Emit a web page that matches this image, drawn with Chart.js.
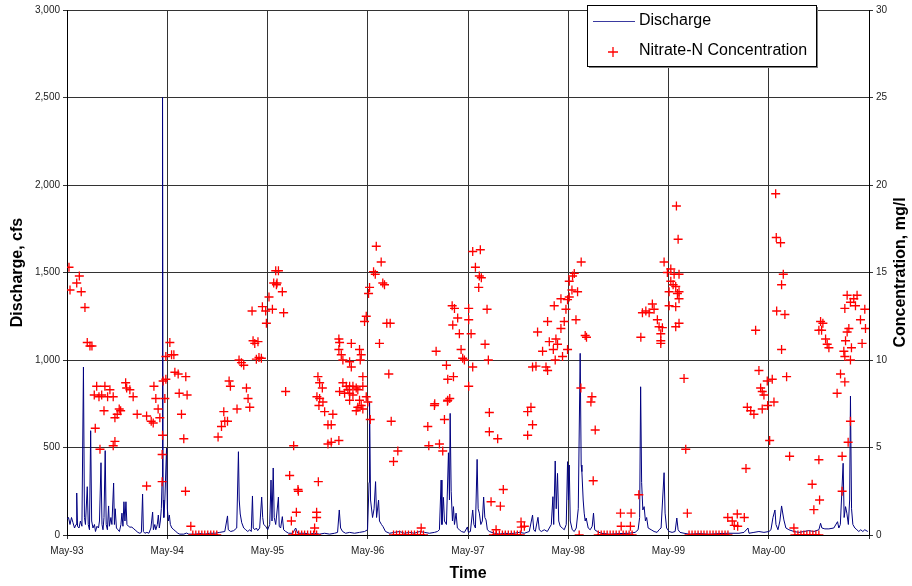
<!DOCTYPE html>
<html>
<head>
    <title>Discharge and Nitrate-N Concentration</title>
    <script src="https://cdn.jsdelivr.net/npm/chart.js@4.4.0/dist/chart.umd.min.js"></script>
    <style>
        body { margin: 0; background: #fff; }
        #wrap { width: 912px; height: 586px; }
    </style>
</head>
<body>
<div id="wrap"><canvas id="chart" width="912" height="586"></canvas></div>
<script>
    // time axis: years after May 1993
    const yearLabels = ['May-93', 'May-94', 'May-95', 'May-96', 'May-97', 'May-98', 'May-99', 'May-00'];
    const dischargeTicks = [0, 500, 1000, 1500, 2000, 2500, 3000];
    const concTicks = [0, 5, 10, 15, 20, 25, 30];

    // daily discharge, cfs  [years after May-93, cfs]
    const discharge = [
        [0.000,90],[0.015,100],[0.030,60],[0.045,100],[0.060,70],[0.075,40],[0.090,60],[0.097,240],[0.105,50],[0.120,40],
        [0.134,80],[0.149,50],[0.164,960],[0.174,100],[0.184,60],[0.202,276],[0.212,60],[0.224,30],[0.236,596],[0.246,80],
        [0.259,40],[0.274,60],[0.284,20],[0.299,50],[0.314,40],[0.324,80],[0.339,413],[0.349,60],[0.359,30],[0.369,100],
        [0.381,482],[0.391,60],[0.403,30],[0.415,166],[0.423,50],[0.438,100],[0.448,60],[0.465,297],[0.473,60],[0.481,150],
        [0.493,40],[0.508,30],[0.523,20],[0.538,60],[0.548,125],[0.558,50],[0.568,190],[0.578,80],[0.588,190],[0.598,60],
        [0.613,50],[0.627,45],[0.647,45],[0.667,35],[0.687,25],[0.707,15],[0.727,10],[0.742,15],[0.754,234],[0.762,20],
        [0.777,10],[0.797,15],[0.817,10],[0.837,40],[0.854,131],[0.862,30],[0.876,60],[0.886,30],[0.901,60],[0.911,114],
        [0.921,40],[0.931,80],[0.941,150],[0.948,300],[0.953,2500],[0.959,200],[0.966,100],[0.976,200],[0.993,497],[1.001,150],
        [1.011,80],[1.021,114],[1.031,60],[1.046,40],[1.066,30],[1.086,20],[1.106,10],[1.125,5],[1.165,5],[1.192,11],
        [1.215,5],[1.275,5],[1.325,8],[1.374,5],[1.424,10],[1.474,10],[1.524,15],[1.574,20],[1.601,109],[1.609,30],
        [1.633,20],[1.663,25],[1.693,40],[1.710,476],[1.718,200],[1.728,120],[1.743,70],[1.763,40],[1.783,30],[1.803,20],
        [1.823,30],[1.838,20],[1.850,223],[1.858,40],[1.873,30],[1.889,40],[1.902,25],[1.922,40],[1.942,217],[1.952,100],
        [1.962,60],[1.982,50],[2.002,30],[2.022,60],[2.035,314],[2.045,80],[2.057,383],[2.067,100],[2.082,60],[2.109,217],
        [2.117,50],[2.131,40],[2.148,105],[2.161,30],[2.181,20],[2.211,10],[2.251,10],[2.281,40],[2.301,10],[2.370,10],
        [2.420,5],[2.470,10],[2.520,5],[2.570,10],[2.619,5],[2.669,10],[2.699,15],[2.716,143],[2.729,40],[2.749,20],
        [2.779,10],[2.819,15],[2.868,10],[2.918,15],[2.968,20],[2.998,30],[3.013,300],[3.018,762],[3.028,200],[3.048,100],
        [3.063,150],[3.078,305],[3.088,100],[3.108,200],[3.117,80],[3.137,60],[3.152,48],[3.177,20],[3.217,10],[3.267,15],
        [3.317,20],[3.366,10],[3.416,15],[3.466,10],[3.516,20],[3.566,15],[3.615,10],[3.665,15],[3.695,20],[3.715,30],
        [3.732,314],[3.740,60],[3.755,215],[3.765,80],[3.785,60],[3.805,470],[3.815,200],[3.822,695],[3.832,250],[3.845,80],
        [3.855,162],[3.865,60],[3.881,125],[3.894,40],[3.914,30],[3.934,20],[3.964,15],[3.994,46],[4.004,15],[4.024,20],
        [4.047,143],[4.059,60],[4.074,40],[4.091,432],[4.101,150],[4.113,125],[4.128,60],[4.143,80],[4.156,217],[4.168,100],
        [4.180,86],[4.193,30],[4.213,20],[4.263,10],[4.313,5],[4.362,10],[4.412,8],[4.462,10],[4.512,15],[4.562,10],
        [4.611,20],[4.644,114],[4.656,30],[4.671,20],[4.698,101],[4.711,30],[4.731,20],[4.761,30],[4.791,20],[4.811,40],
        [4.831,60],[4.847,219],[4.855,60],[4.870,423],[4.880,150],[4.893,352],[4.905,80],[4.920,50],[4.940,40],[4.960,30],
        [4.980,60],[4.993,419],[5.002,200],[5.010,400],[5.020,80],[5.040,30],[5.060,20],[5.080,40],[5.100,150],[5.119,1038],
        [5.129,400],[5.136,362],[5.149,200],[5.159,125],[5.169,80],[5.179,97],[5.199,40],[5.219,30],[5.239,50],[5.252,125],
        [5.264,30],[5.289,20],[5.329,10],[5.408,5],[5.508,8],[5.607,10],[5.667,15],[5.697,30],[5.712,100],[5.722,847],
        [5.732,300],[5.744,143],[5.757,162],[5.770,80],[5.782,100],[5.797,40],[5.827,30],[5.856,20],[5.886,15],[5.906,30],
        [5.926,40],[5.941,200],[5.956,356],[5.966,125],[5.981,40],[6.006,20],[6.036,15],[6.066,20],[6.083,97],[6.096,30],
        [6.115,15],[6.155,10],[6.205,5],[6.305,8],[6.404,5],[6.504,8],[6.603,10],[6.703,10],[6.753,15],[6.793,40],
        [6.803,10],[6.852,15],[6.902,20],[6.952,15],[7.002,20],[7.022,30],[7.042,100],[7.062,143],[7.072,60],[7.092,30],
        [7.111,80],[7.128,166],[7.141,120],[7.151,86],[7.171,40],[7.201,30],[7.251,20],[7.301,15],[7.350,20],[7.400,25],
        [7.450,20],[7.500,30],[7.517,67],[7.530,40],[7.560,35],[7.600,35],[7.649,40],[7.686,76],[7.699,40],[7.714,60],
        [7.742,410],[7.752,100],[7.766,162],[7.779,125],[7.794,60],[7.807,200],[7.815,794],[7.826,150],[7.839,60],[7.859,40],
        [7.879,30],[7.898,20],[7.918,30],[7.938,20],[7.958,30],[7.988,20]
    ];

    // nitrate-N samples, mg/l  [years after May-93, mg/l]
    const nitrate = [
        [0.020,15.3],[0.030,14.0],[0.097,14.4],[0.123,14.8],[0.142,13.9],[0.179,13.0],[0.202,11.0],[0.229,10.8],[0.249,10.8],[0.272,8.0],
        [0.296,8.5],[0.282,6.1],[0.329,4.9],[0.319,7.9],[0.346,8.0],[0.378,8.5],[0.369,7.1],[0.405,7.9],[0.428,8.3],[0.461,7.9],
        [0.478,6.7],[0.461,5.1],[0.478,5.35],[0.501,6.9],[0.521,7.2],[0.535,7.1],[0.585,8.7],[0.595,8.4],[0.627,8.3],[0.660,7.9],
        [0.700,6.9],[0.794,6.8],[0.840,6.5],[0.860,6.4],[0.794,2.8],[0.867,8.5],[0.886,7.8],[0.909,7.2],[0.926,6.7],[0.953,5.7],
        [0.949,4.6],[0.949,3.05],[0.959,8.8],[0.986,8.9],[0.976,7.8],[0.986,10.2],[1.026,11.0],[1.043,10.3],[1.066,10.3],[1.076,9.3],
        [1.109,9.2],[1.119,8.1],[1.142,6.9],[1.165,5.5],[1.182,2.5],[1.185,9.05],[1.198,8.0],[1.235,0.5],
        [1.255,0],[1.285,0],[1.315,0],[1.345,0],[1.374,0],[1.404,0],[1.434,0],[1.464,0],[1.494,0],
        [1.507,5.6],[1.541,6.2],[1.564,7.05],[1.574,6.5],[1.601,6.5],[1.617,8.8],[1.630,8.5],[1.696,7.2],[1.716,10.0],[1.740,9.85],
        [1.763,9.7],[1.790,8.4],[1.806,7.8],[1.823,7.3],[1.846,12.8],[1.856,11.1],[1.873,10.95],[1.905,11.05],[1.889,10.05],[1.915,10.15],
        [1.939,10.1],[1.949,13.05],[1.982,12.8],[1.989,12.1],[2.015,13.6],[2.049,12.9],[2.062,14.4],[2.095,14.4],[2.148,13.9],[2.161,12.7],
        [2.082,15.1],[2.109,15.1],[2.089,14.3],[2.181,8.2],[2.221,3.4],[2.261,5.1],[2.304,2.6],[2.288,1.3],[2.238,0.8],
        [2.251,0],[2.281,0],[2.311,0],[2.341,0],[2.370,0],[2.400,0],[2.430,0],[2.460,0],[2.490,0],
        [2.308,2.5],[2.507,3.05],[2.490,1.3],[2.490,1.0],[2.470,0.4],
        [2.503,9.05],[2.520,8.7],[2.547,8.4],[2.493,7.9],[2.520,7.8],[2.553,7.6],[2.513,7.4],[2.570,7.05],[2.603,6.3],[2.636,6.3],
        [2.652,6.9],[2.603,5.2],[2.636,5.3],[2.712,5.4],[2.712,11.2],[2.719,11.0],[2.836,10.95],[2.712,10.6],[2.736,10.3],[2.752,10.0],
        [2.819,9.9],[2.836,9.6],[2.918,10.6],[2.935,10.3],[2.925,10.0],[2.752,8.7],[2.786,8.5],[2.819,8.5],[2.852,8.5],[2.885,8.4],
        [2.802,8.3],[2.769,8.1],[2.819,8.1],[2.852,8.0],[2.901,8.3],[2.951,9.05],[2.951,8.5],[2.719,8.2],[2.819,7.7],[2.918,7.7],
        [2.985,7.9],[2.901,7.3],[2.935,7.4],[2.885,7.1],[2.951,7.2],[3.001,7.6],
        [3.085,16.5],[3.134,15.6],[3.058,15.05],[3.075,14.9],[3.150,14.4],[3.167,14.3],[3.018,14.15],[3.008,13.8],[2.985,12.5],[2.968,12.2],
        [3.190,12.1],[3.224,12.1],[3.117,10.95],[3.210,9.2],[3.025,6.6],[3.234,6.5],[3.257,4.2],[3.300,4.8],
        [3.257,0],[3.287,0],[3.317,0],[3.347,0],[3.376,0],[3.406,0],[3.436,0],[3.466,0],[3.496,0],[3.526,0],[3.556,0],[3.533,0.4],
        [3.599,6.2],[3.609,5.1],[3.665,7.4],[3.682,10.5],[3.715,5.2],[3.748,4.8],[3.765,6.6],[3.785,9.7],[3.798,8.9],[3.798,7.7],
        [3.818,7.8],[3.855,9.05],[3.842,13.1],[3.865,12.95],[3.848,12.0],[3.897,12.4],[3.914,11.5],[3.931,10.6],[3.947,10.1],[3.964,10.0],
        [4.007,12.95],[4.007,12.3],[4.031,11.5],[4.047,9.6],[4.007,8.5],[4.190,12.9],[4.170,10.9],[4.203,10.0],[4.213,7.0],[4.213,5.9],
        [4.296,5.5],[3.668,7.5],[3.795,7.65],
        [4.047,16.2],[4.123,16.3],[4.074,15.3],[4.113,14.8],[4.133,14.7],[4.107,14.15],
        [4.352,2.6],[4.230,1.9],[4.323,1.65],
        [4.253,0],[4.283,0],[4.313,0],[4.343,0],[4.372,0],[4.402,0],[4.432,0],[4.462,0],[4.492,0],[4.522,0],[4.280,0.3],
        [4.529,0.75],[4.562,0.5],[4.532,0.45],
        [4.595,7.05],[4.628,7.3],[4.644,6.3],[4.595,5.7],[4.644,9.6],[4.678,9.65],[4.778,9.6],[4.794,9.4],[4.694,11.6],[4.744,10.5],
        [4.811,11.05],[4.794,12.2],[4.851,10.6],[4.870,10.0],[4.877,11.2],[4.927,11.8],[4.893,10.9],[4.943,10.2],[4.960,12.2],[4.977,12.9],
        [4.860,13.1],[4.927,13.5],[5.010,13.6],[5.077,12.3],[4.993,10.6],[5.169,11.4],[5.182,11.3],
        [5.129,15.6],[5.060,14.95],[5.043,14.8],[5.010,14.5],[5.037,14.0],[5.093,13.9],[4.993,13.45],
        [5.126,8.4],[5.236,7.9],[5.226,7.6],[5.269,6.0],[5.249,3.1],[5.109,0],
        [5.299,0],[5.329,0],[5.358,0],[5.388,0],[5.418,0],[5.448,0],[5.478,0],[5.508,0],[5.548,0],[5.578,0],[5.607,0],[5.637,0],
        [5.521,1.25],[5.627,1.25],[5.528,0.5],[5.620,0.5],[5.704,2.3],
        [5.724,11.3],[5.740,12.7],[5.774,12.8],[5.807,12.7],[5.839,13.2],[5.856,12.9],[5.889,12.3],[5.906,11.9],[5.939,11.85],[5.923,11.5],
        [5.923,11.1],[5.923,10.95],
        [6.079,18.8],[6.096,16.9],[5.956,15.6],[5.989,15.0],[6.023,15.2],[6.056,14.9],[6.105,14.9],[6.006,13.9],[6.072,14.2],[6.105,13.9],
        [6.023,14.5],[6.046,14.3],[6.089,13.8],[6.105,13.5],[6.006,13.1],[6.072,13.05],[6.105,12.1],[6.072,11.9],
        [6.155,8.95],[6.172,4.9],[6.188,1.25],
        [6.205,0],[6.235,0],[6.265,0],[6.295,0],[6.325,0],[6.354,0],[6.384,0],[6.414,0],[6.444,0],[6.474,0],[6.504,0],[6.534,0],[6.564,0],[6.593,0],
        [6.591,1.0],[6.686,1.2],[6.756,1.0],[6.636,0.8],[6.656,0.55],[6.690,0.5],[6.773,3.8],
        [6.786,7.3],[6.820,7.1],[6.852,6.9],[6.935,7.2],[6.989,7.4],[7.052,7.6],[6.869,11.7],[6.902,9.4],[6.919,8.4],[6.935,8.2],
        [6.952,8.0],[6.985,8.8],[7.035,8.9],[7.009,5.4],[7.079,12.8],[7.161,12.6],[7.128,14.3],[7.128,10.6],[7.178,9.05],[7.208,4.5],
        [7.251,0.4],[7.069,19.5],[7.075,17.0],[7.118,16.7],[7.145,14.9],
        [7.261,0],[7.291,0],[7.321,0],[7.350,0],[7.380,0],[7.410,0],[7.440,0],[7.470,0],[7.500,0],
        [7.433,2.9],[7.450,1.45],[7.500,4.3],[7.507,2.0],
        [7.500,11.7],[7.517,12.2],[7.540,12.1],[7.527,11.7],[7.567,11.2],[7.583,10.9],[7.600,10.7],
        [7.682,8.1],[7.716,9.2],[7.759,8.75],[7.732,4.5],[7.732,2.5],[7.792,5.3],[7.815,6.5],
        [7.749,10.5],[7.759,10.2],[7.815,10.0],[7.825,10.7],[7.766,11.1],[7.782,11.6],[7.799,11.8],[7.759,12.95],[7.782,13.7],[7.815,13.3],
        [7.848,13.5],[7.881,13.7],[7.865,13.1],[7.915,12.3],[7.931,10.95],[7.958,12.9],[7.965,11.8]
    ];

    Chart.defaults.font.family = "'Liberation Sans', Arial, sans-serif";
    Chart.defaults.color = '#222';

    // legend box and right-hand title, drawn on the canvas
    const extras = {
        id: 'extras',
        afterDraw(chart) {
            const ctx = chart.ctx;
            const area = chart.chartArea;
            ctx.save();
            // right axis title, reads bottom to top
            ctx.font = "bold 16px 'Liberation Sans', Arial, sans-serif";
            ctx.fillStyle = '#000';
            ctx.textAlign = 'center';
            ctx.textBaseline = 'middle';
            ctx.translate(901, (area.top + area.bottom) / 2);
            ctx.rotate(-Math.PI / 2);
            ctx.fillText('Concentration, mg/l', 0, 0);
            ctx.restore();

            ctx.save();
            const bx = 587, by = 5, bw = 229, bh = 61;
            ctx.fillStyle = '#808080';
            ctx.fillRect(bx + 2, by + 2, bw, bh);
            ctx.fillStyle = '#fff';
            ctx.fillRect(bx, by, bw, bh);
            ctx.strokeStyle = '#000';
            ctx.lineWidth = 1;
            ctx.strokeRect(bx + 0.5, by + 0.5, bw, bh);
            ctx.strokeStyle = '#3a3aa0';
            ctx.lineWidth = 1.2;
            ctx.beginPath();
            ctx.moveTo(593, 21.5);
            ctx.lineTo(635, 21.5);
            ctx.stroke();
            ctx.strokeStyle = '#ff0000';
            ctx.lineWidth = 1.3;
            ctx.beginPath();
            ctx.moveTo(608, 52);
            ctx.lineTo(618, 52);
            ctx.moveTo(613, 47);
            ctx.lineTo(613, 57);
            ctx.stroke();
            ctx.font = "16px 'Liberation Sans', Arial, sans-serif";
            ctx.fillStyle = '#000';
            ctx.textAlign = 'left';
            ctx.textBaseline = 'middle';
            ctx.fillText('Discharge', 639, 21);
            ctx.fillText('Nitrate-N Concentration', 639, 51);
            ctx.restore();
        }
    };

    const chart = new Chart(document.getElementById('chart'), {
        type: 'scatter',
        data: {
            datasets: [{
                type: 'line',
                label: 'Discharge',
                data: discharge.map(d => ({ x: d[0], y: d[1] })),
                borderColor: '#000080',
                borderWidth: 1,
                pointRadius: 0,
                tension: 0,
                yAxisID: 'y',
                order: 2
            }, {
                label: 'Nitrate-N Concentration',
                data: nitrate.map(d => ({ x: d[0], y: d[1] })),
                pointStyle: 'cross',
                pointRadius: 4.5,
                borderColor: '#ff0000',
                backgroundColor: '#ff0000',
                borderWidth: 1.3,
                yAxisID: 'y1',
                order: 1
            }]
        },
        options: {
            responsive: false,
            animation: false,
            layout: { padding: { top: 10, left: 0, right: 0, bottom: 0 } },
            plugins: { legend: { display: false }, tooltip: { enabled: false } },
            scales: {
                x: {
                    type: 'linear',
                    min: 0,
                    max: 8,
                    afterBuildTicks: s => { s.ticks = [0, 1, 2, 3, 4, 5, 6, 7, 8].map(v => ({ value: v })); },
                    afterFit: s => { s.height = 51; },
                    grid: { color: '#333', tickLength: 4, tickColor: '#333' },
                    border: { color: '#000' },
                    ticks: {
                        autoSkip: false,
                        maxRotation: 0,
                        padding: 6,
                        font: { size: 10 },
                        callback: v => yearLabels[v] || ''
                    },
                    title: {
                        display: true,
                        text: 'Time',
                        color: '#000',
                        font: { size: 16, weight: 'bold' },
                        padding: { top: 0, bottom: 3 }
                    }
                },
                y: {
                    position: 'left',
                    min: 0,
                    max: 3000,
                    afterBuildTicks: s => { s.ticks = dischargeTicks.map(v => ({ value: v })); },
                    afterFit: s => { s.width = 67; },
                    grid: { color: '#333', tickLength: 4, tickColor: '#333' },
                    border: { color: '#000' },
                    ticks: {
                        padding: 3,
                        font: { size: 10 },
                        callback: v => v.toLocaleString('en-US')
                    },
                    title: {
                        display: true,
                        text: 'Discharge, cfs',
                        color: '#000',
                        font: { size: 16, weight: 'bold' },
                        padding: { top: 8, bottom: 0 }
                    }
                },
                y1: {
                    position: 'right',
                    min: 0,
                    max: 30,
                    afterBuildTicks: s => { s.ticks = concTicks.map(v => ({ value: v })); },
                    afterFit: s => { s.width = 43; },
                    grid: { drawOnChartArea: false, tickLength: 4, tickColor: '#333' },
                    border: { color: '#000' },
                    ticks: { padding: 3, font: { size: 10 } }
                }
            }
        },
        plugins: [extras]
    });
</script>
</body>
</html>
